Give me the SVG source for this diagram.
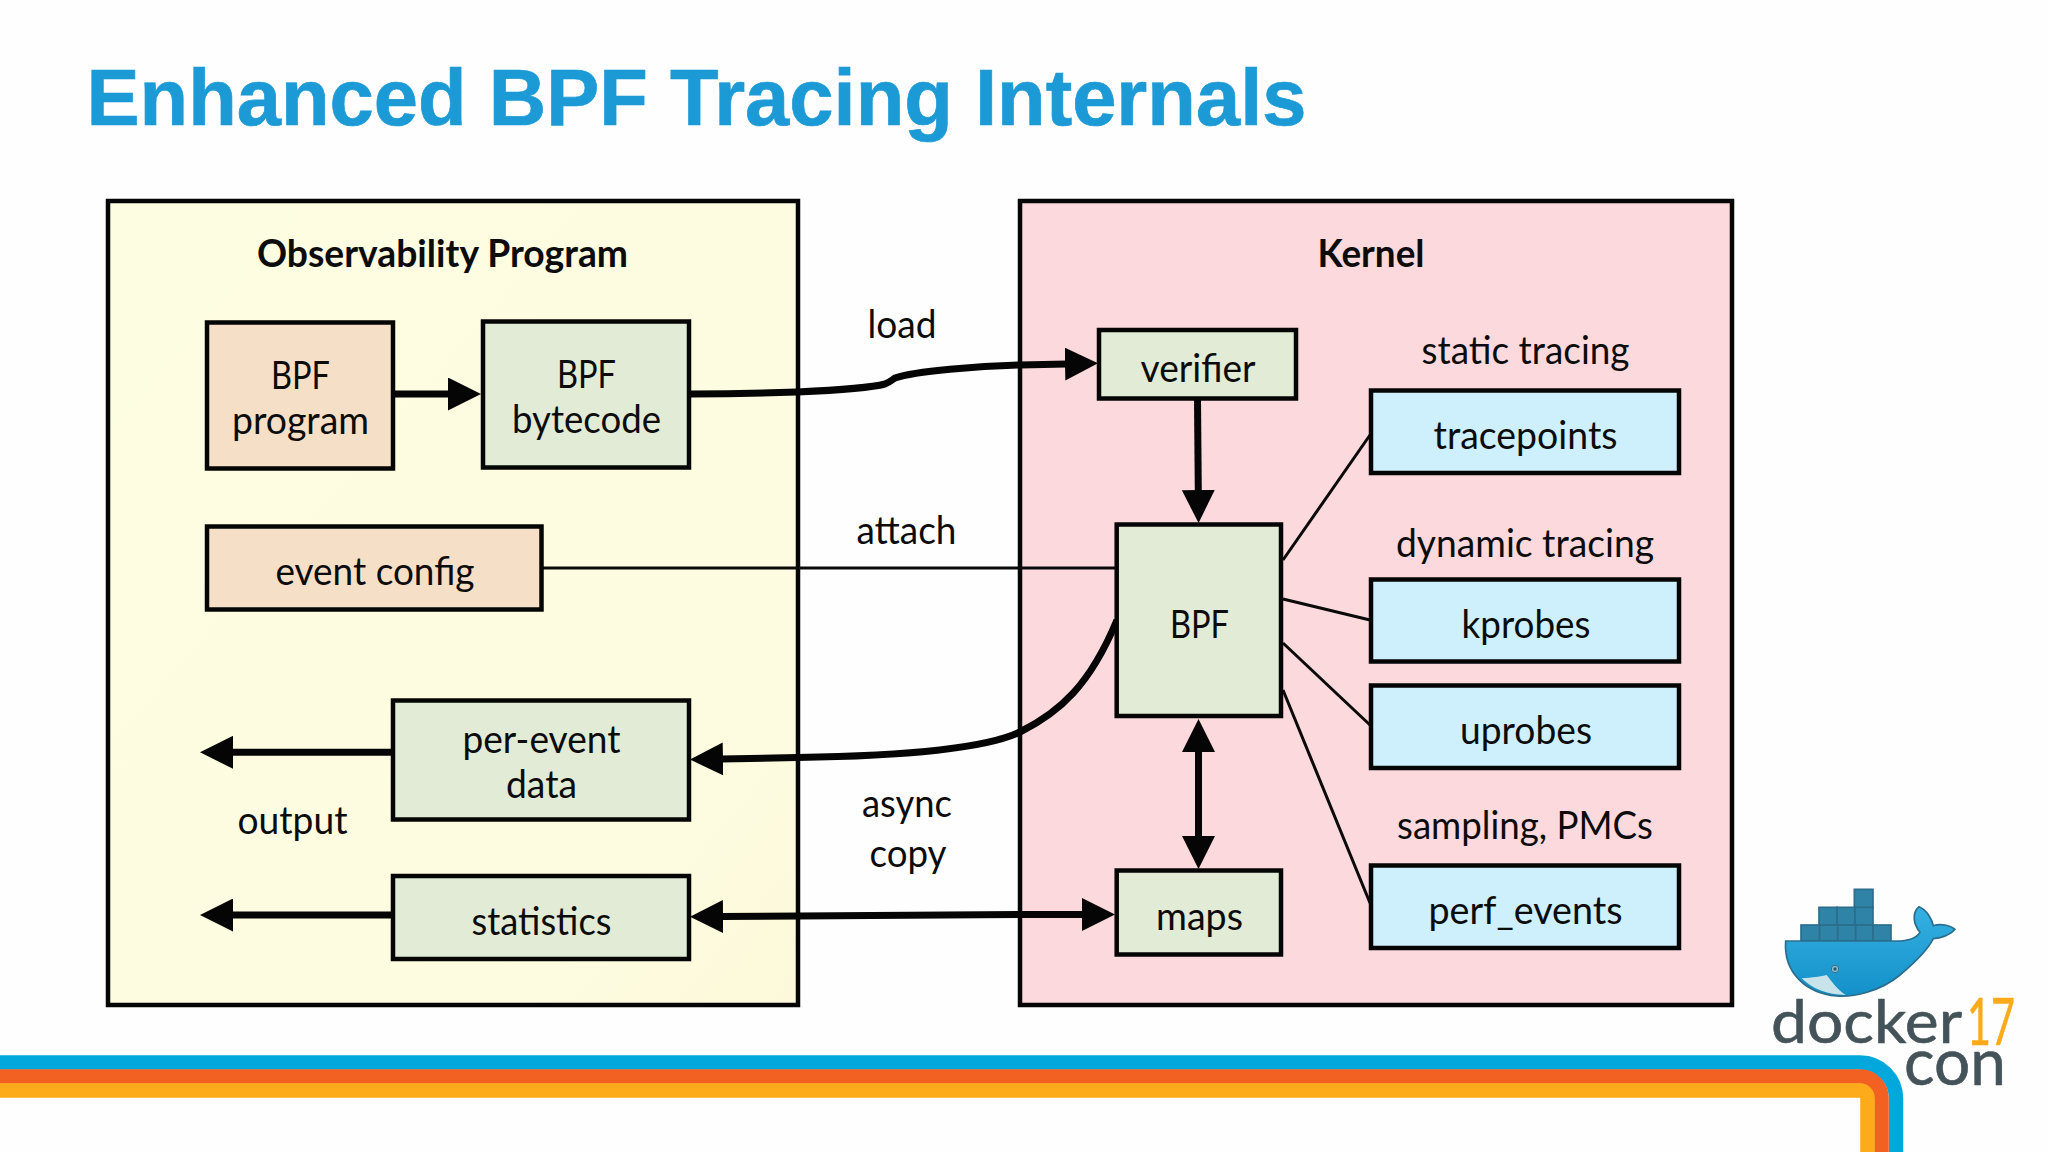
<svg xmlns="http://www.w3.org/2000/svg" width="2048" height="1152" viewBox="0 0 2048 1152">
<style>
text{font-family:"Lato","Carlito","Open Sans",sans-serif;font-size:38px;fill:#0c0c0c;text-anchor:middle}
.h{font-weight:700;font-size:38px}
.box{stroke:#050505;stroke-width:4.5}
.outer{stroke:#050505;stroke-width:4.5}
.green{fill:#e1ebd6}.tan{fill:#f5dfc7}.blue{fill:#cdf0fc}
.thick{fill:none;stroke:#050505;stroke-width:7;marker-end:url(#ah)}
.both{marker-start:url(#ah)}
.thin{fill:none;stroke:#0a0a0a;stroke-width:3}
.band{fill:none;stroke-width:14.5}
.logo{font-weight:400;stroke-linejoin:round}
</style>
<defs>
<marker id="ah" markerUnits="userSpaceOnUse" markerWidth="33" markerHeight="33" viewBox="0 0 33 33" refX="2" refY="16.500" orient="auto-start-reverse"><path d="M0 0L33 16.500L0 33Z" fill="#050505"/></marker>
<linearGradient id="yg" x1="0" x2="1" y1="0" y2="1"><stop offset="0" stop-color="#fdfde1"/><stop offset=".8" stop-color="#fdfce0"/><stop offset="1" stop-color="#fdf8da"/></linearGradient>
<linearGradient id="whale" x1="0" x2="0" y1="0" y2="1"><stop offset="0" stop-color="#35b1e3"/><stop offset="1" stop-color="#1390c8"/></linearGradient>
</defs>
<rect width="2048" height="1152" fill="#fefefe"/>
<text x="86.500" y="125" textLength="1220" lengthAdjust="spacingAndGlyphs" style="font-family:'Liberation Sans',Arial,sans-serif;font-weight:700;font-size:80px;fill:#1c9ad6;stroke:#1c9ad6;stroke-width:.7;text-anchor:start">Enhanced BPF Tracing Internals</text>

<g id="bands">
<path class="band" stroke="#02a8dc" d="M0 1062.500H1860A36 36 0 0 1 1896 1098.500V1152"/>
<path class="band" stroke="#f26122" d="M0 1076.500H1860A21.500 21.500 0 0 1 1881.500 1098V1152"/>
<path class="band" stroke="#fdab1a" d="M0 1090.500H1860A7.500 7.500 0 0 1 1867.500 1098V1152"/>
</g>

<g id="observability-program">
<rect class="outer" x="108" y="201" width="690" height="804" fill="url(#yg)"/>
<text class="h" x="442.500" y="266.500" textLength="371" lengthAdjust="spacingAndGlyphs">Observability Program</text>
</g>
<g id="kernel">
<rect class="outer" x="1020" y="201" width="712" height="804" fill="#fcd9dc"/>
<text class="h" x="1371" y="266.500" textLength="107" lengthAdjust="spacingAndGlyphs">Kernel</text>
</g>

<g id="connectors">
<path class="thick" d="M393 394H450"/>
<path class="thick" d="M690 394C740 394 770 393 797 392C840 390 870 388 885 384C890 382 892 380 895 378C915 371 980 366 1020 365L1067 364"/>
<path class="thin" d="M541 568H1117"/>
<path class="thick" d="M1197.500 400L1198.300 492"/>
<path class="thick both" d="M1198.500 750V838"/>
<path class="thick" d="M392 752.300H231"/>
<path class="thick" d="M392 915H231"/>
<path class="thick" d="M1117 620C1090 685 1060 712 1020 732C985 749 900 756 797 757.500L721 759"/>
<path class="thick both" d="M721 916.500L1020 914.500H1084"/>
<path class="thin" d="M1283 560L1370 435"/>
<path class="thin" d="M1283 599L1370 620"/>
<path class="thin" d="M1283 643L1370 725"/>
<path class="thin" d="M1283 690L1370 903"/>
</g>

<g id="bpf-program"><rect class="box tan" x="207" y="322.500" width="186" height="146"/><text x="300.500" y="388.500" textLength="59" lengthAdjust="spacingAndGlyphs">BPF</text><text x="300.500" y="433.500" textLength="137" lengthAdjust="spacingAndGlyphs">program</text></g>
<g id="bpf-bytecode"><rect class="box green" x="483" y="321.500" width="206" height="146"/><text x="586.500" y="388" textLength="59" lengthAdjust="spacingAndGlyphs">BPF</text><text x="586.500" y="432.500" textLength="149" lengthAdjust="spacingAndGlyphs">bytecode</text></g>
<g id="event-config"><rect class="box tan" x="207" y="526.500" width="334.500" height="83"/><text x="375" y="585" textLength="199" lengthAdjust="spacingAndGlyphs">event config</text></g>
<g id="per-event-data"><rect class="box green" x="393" y="700.500" width="296" height="119"/><text x="541.500" y="753" textLength="158" lengthAdjust="spacingAndGlyphs">per-event</text><text x="541.500" y="798" textLength="71" lengthAdjust="spacingAndGlyphs">data</text></g>
<g id="statistics"><rect class="box green" x="393" y="876" width="296" height="83"/><text x="541.500" y="935" textLength="140" lengthAdjust="spacingAndGlyphs">statistics</text></g>
<g id="output-label"><text x="292.500" y="834" textLength="110" lengthAdjust="spacingAndGlyphs">output</text></g>
<g id="load-label"><text x="902" y="338" textLength="69" lengthAdjust="spacingAndGlyphs">load</text></g>
<g id="attach-label"><text x="906.500" y="544" textLength="100" lengthAdjust="spacingAndGlyphs">attach</text></g>
<g id="async-copy-label"><text x="907" y="817" textLength="90" lengthAdjust="spacingAndGlyphs">async</text><text x="908" y="867" textLength="77" lengthAdjust="spacingAndGlyphs">copy</text></g>
<g id="verifier"><rect class="box green" x="1099" y="330" width="197" height="68.500"/><text x="1198" y="382" textLength="115" lengthAdjust="spacingAndGlyphs">verifier</text></g>
<g id="bpf"><rect class="box green" x="1116.700" y="524.500" width="164.300" height="191.500"/><text x="1199.500" y="637.500" textLength="59" lengthAdjust="spacingAndGlyphs">BPF</text></g>
<g id="maps"><rect class="box green" x="1116.700" y="870.500" width="164.300" height="84"/><text x="1199.500" y="930" textLength="87" lengthAdjust="spacingAndGlyphs">maps</text></g>
<g id="static-tracing-label"><text x="1525.500" y="363.500" textLength="208" lengthAdjust="spacingAndGlyphs">static tracing</text></g>
<g id="tracepoints"><rect class="box blue" x="1371" y="390.500" width="308" height="82.500"/><text x="1525.500" y="449" textLength="184" lengthAdjust="spacingAndGlyphs">tracepoints</text></g>
<g id="dynamic-tracing-label"><text x="1525" y="557" textLength="258" lengthAdjust="spacingAndGlyphs">dynamic tracing</text></g>
<g id="kprobes"><rect class="box blue" x="1371" y="579.500" width="308" height="82"/><text x="1526" y="637.500" textLength="129" lengthAdjust="spacingAndGlyphs">kprobes</text></g>
<g id="uprobes"><rect class="box blue" x="1371" y="685.500" width="308" height="82.500"/><text x="1526" y="743.500" textLength="132" lengthAdjust="spacingAndGlyphs">uprobes</text></g>
<g id="sampling-label"><text x="1525" y="838.500" textLength="256" lengthAdjust="spacingAndGlyphs">sampling, PMCs</text></g>
<g id="perf-events"><rect class="box blue" x="1371" y="865.500" width="308" height="82.500"/><text x="1525.500" y="923.500" textLength="194" lengthAdjust="spacingAndGlyphs">perf_events</text></g>

<g id="docker-logo">
<g transform="translate(1720 860) scale(.33333)" stroke="#2b6d8c" stroke-width="5">
<g fill="#2f83a6">
<rect x="403" y="88" width="56" height="55"/>
<rect x="297" y="142" width="54" height="54"/><rect x="351" y="142" width="54" height="54"/><rect x="405" y="142" width="54" height="54"/>
<rect x="243" y="195" width="56" height="48"/><rect x="299" y="195" width="54" height="48"/><rect x="353" y="195" width="54" height="48"/><rect x="407" y="195" width="54" height="48"/><rect x="459" y="195" width="54" height="48"/>
</g>
<path fill="url(#whale)" d="M197 243H530C560 243 588 236 600 217C580 192 575 160 597 140C620 150 635 175 640 197C660 190 690 195 705 208C690 226 660 235 640 236C620 275 570 320 540 345C480 395 400 412 350 408C260 400 190 340 197 243Z"/>
<path fill="#c8e3ea" stroke="none" d="M245 355C275 352 305 350 320 345C335 365 355 392 378 405C320 405 275 385 245 355Z"/>
<circle cx="345" cy="327" r="11" fill="#8fc0d4" stroke="#2b6d8c" stroke-width="3"/>
<circle cx="345" cy="327" r="5" fill="#24566e" stroke="none"/>
</g>
<text class="logo" x="1771" y="1043" textLength="191" lengthAdjust="spacingAndGlyphs" style="font-size:60px;text-anchor:start;fill:#445359;stroke:#445359;stroke-width:.6">docker</text>
<text class="logo" x="1967" y="1045" textLength="48" lengthAdjust="spacingAndGlyphs" style="font-size:66px;text-anchor:start;fill:#fbab1a;stroke:#fbab1a;stroke-width:.6">17</text>
<text class="logo" x="1904" y="1085" textLength="102" lengthAdjust="spacingAndGlyphs" style="font-size:66px;text-anchor:start;fill:#445359;stroke:#445359;stroke-width:.6">con</text>
</g>
</svg>
